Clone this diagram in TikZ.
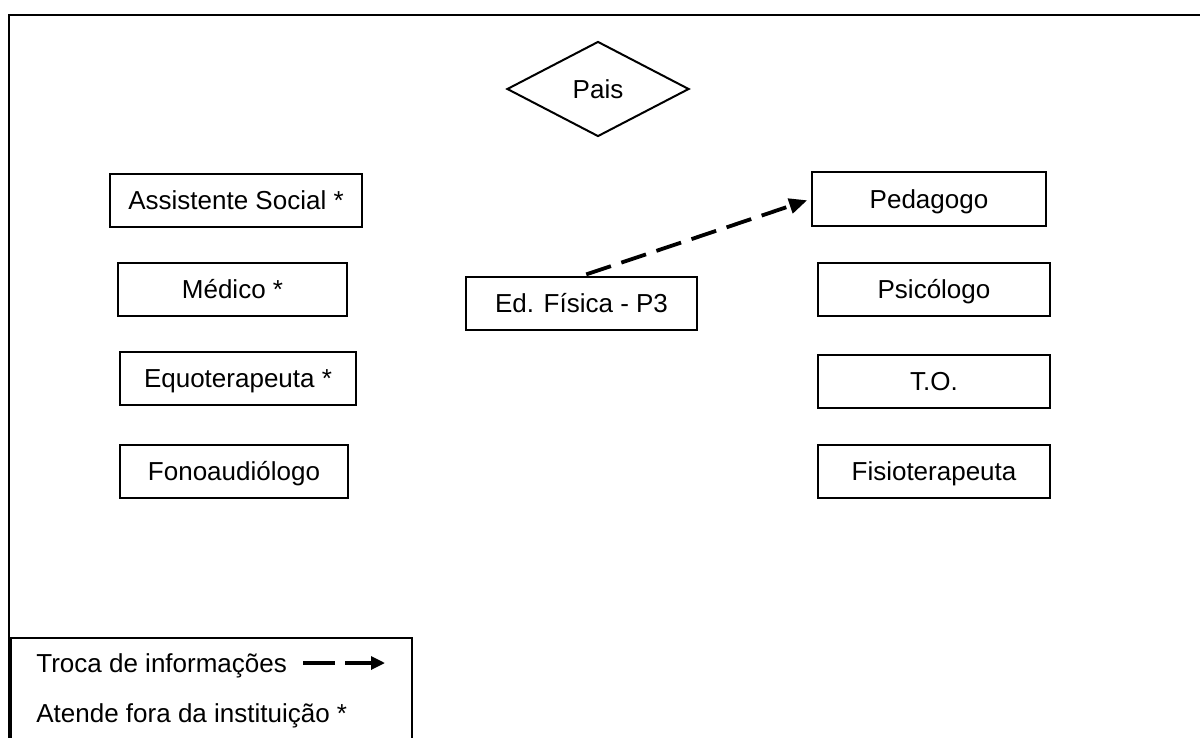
\documentclass[tikz,border=0pt]{standalone}
\usepackage{fontspec}
\setmainfont{Liberation Sans}
\usetikzlibrary{shapes.geometric,arrows.meta}
\begin{document}
\begin{tikzpicture}[x=0.5pt,y=-0.5pt,
  every node/.style={font=\fontsize{13}{15}\selectfont},
  box/.style={draw,line width=1pt,inner sep=0pt,minimum height=26.5pt,text height=9.3pt,text depth=0pt},
  legtext/.style={anchor=west,inner sep=0pt,text height=9.3pt,text depth=0pt},
  dashedarrow/.style={line width=1.9pt,dash pattern=on 13pt off 5.5pt,-{Triangle[length=9pt,width=7.5pt]}}]
\useasboundingbox (0,0) rectangle (1200,738);
% outer frame
\coordinate (ftr) at (1200,15);
\coordinate (ftl) at (9,15);
\coordinate (fbl) at (9,738);
\draw[line width=1pt] (ftr) -- (ftl) -- (fbl);
% diamond
\node[draw,line width=1pt,diamond,aspect=1.92,minimum width=91pt,minimum height=47.5pt,inner sep=0pt] (pais) at (598,89) {Pais};
% left column
\node[box,minimum width=126pt] (as) at (236,200.5) {Assistente Social *};
\node[box,minimum width=114.5pt] (med) at (232.5,289.5) {Médico *};
\node[box,minimum width=118pt] (equo) at (238,378.5) {Equoterapeuta *};
\node[box,minimum width=114pt] (fono) at (234,471) {Fonoaudiólogo};
% center
\node[box,minimum width=115.5pt] (ed) at (581.5,303.5) {Ed. Física - P3};
% right column
\node[box,minimum width=117pt,minimum height=27pt] (ped) at (929,199) {Pedagogo};
\node[box,minimum width=116pt] (psi) at (934,289.5) {Psicólogo};
\node[box,minimum width=116pt] (to) at (934,381.5) {T.O.};
\node[box,minimum width=116pt] (fisio) at (934,471) {Fisioterapeuta};
% arrow
\draw[dashedarrow,shorten <=2.5pt,shorten >=2pt] (ed.north) -- (ped.west);
% legend
\coordinate (lgtl) at (11,745);
\coordinate (lgbr) at (412,638);
\draw[line width=1pt] (lgtl) rectangle (lgbr);
\node[legtext] (troca) at (36,663) {Troca de informações};
\node[legtext] (atende) at (36,713) {Atende fora da instituição *};
\coordinate (la) at (303,663);
\coordinate (lb) at (385,663);
\draw[line width=1.6pt,dash pattern=on 16pt off 5pt,-{Triangle[length=7pt,width=6.5pt]}] (la) -- (lb);
\end{tikzpicture}
\end{document}
